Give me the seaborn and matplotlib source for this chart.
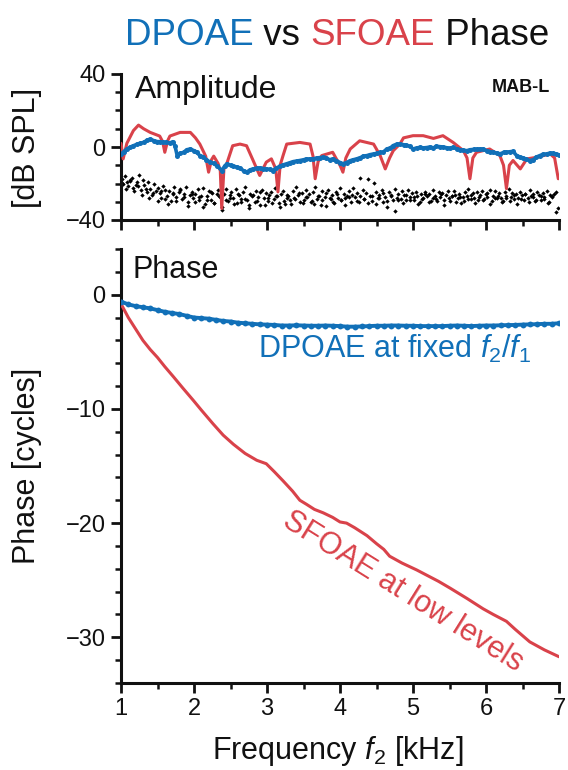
import matplotlib
matplotlib.use("Agg")
import matplotlib.pyplot as plt
import seaborn as sns
from matplotlib.ticker import MultipleLocator

# ---- data ----
# amplitude panel: SFOAE (red) level, dB SPL
sfAmpFreq = [1.00, 1.03, 1.08, 1.17, 1.24, 1.31, 1.40, 1.53, 1.57, 1.60,
             1.64, 1.67, 1.81, 1.95, 2.02, 2.08, 2.16, 2.20, 2.24, 2.27,
             2.33, 2.36, 2.38, 2.41, 2.45, 2.53, 2.63, 2.72, 2.81, 2.90,
             2.99, 3.06, 3.12, 3.15, 3.18, 3.22, 3.27, 3.45, 3.59, 3.63,
             3.66, 3.70, 3.75, 3.90, 3.95, 4.00, 4.04, 4.08, 4.14, 4.27,
             4.46, 4.55, 4.62, 4.68, 4.73, 4.82, 4.87, 5.00, 5.14, 5.28,
             5.41, 5.55, 5.69, 5.74, 5.78, 5.82, 5.87, 6.05, 6.19, 6.24,
             6.28, 6.32, 6.37, 6.47, 6.56, 6.70, 6.88, 6.94, 6.99]
sfAmp = [2.0, -6.5, 2.0, 9.0, 12.0, 10.0, 8.0, 6.0, 3.0, -2.9,
         3.5, 6.0, 8.0, 8.0, 5.0, 1.6, -5.0, -13.8, -7.0, -5.0,
         -9.0, -13.0, -33.7, -12.0, -9.0, 0.7, 1.6, 0.7, -7.4, -15.6,
         -8.3, -6.5, -12.0, -24.6, -10.0, -4.7, 1.6, 2.5, 1.6, -5.0,
         -17.4, -8.0, -4.7, -2.9, -6.5, -10.0, -13.8, -6.0, -1.1, 3.4,
         1.6, -4.7, -12.0, -6.0, -2.0, 1.6, 5.0, 6.2, 6.2, 4.7,
         6.2, 2.5, -2.0, -6.0, -17.4, -6.0, -2.9, -1.1, -4.7, -10.0,
         -22.8, -10.0, -7.4, -12.0, -6.5, -5.6, -3.8, -6.0, -17.4]

# amplitude panel: DPOAE (blue) level, dB SPL
dpAmpFreq = [1.00, 1.04, 1.08, 1.13, 1.17, 1.22, 1.26, 1.31, 1.36, 1.40,
             1.45, 1.49, 1.53, 1.58, 1.62, 1.67, 1.71, 1.74, 1.77, 1.81,
             1.86, 1.90, 1.95, 2.00, 2.04, 2.08, 2.13, 2.17, 2.22, 2.27,
             2.32, 2.38, 2.42, 2.45, 2.50, 2.54, 2.59, 2.63, 2.68, 2.72,
             2.77, 2.81, 2.86, 2.90, 2.95, 2.99, 3.04, 3.08, 3.13, 3.18,
             3.22, 3.27, 3.32, 3.36, 3.41, 3.45, 3.50, 3.54, 3.59, 3.63,
             3.68, 3.72, 3.77, 3.81, 3.86, 3.90, 3.95, 4.00, 4.04, 4.09,
             4.14, 4.18, 4.23, 4.28, 4.32, 4.37, 4.41, 4.46, 4.50, 4.55,
             4.59, 4.64, 4.69, 4.73, 4.78, 4.82, 4.87, 4.91, 4.96, 5.00,
             5.05, 5.10, 5.14, 5.19, 5.23, 5.28, 5.32, 5.37, 5.41, 5.46,
             5.50, 5.55, 5.60, 5.64, 5.69, 5.74, 5.78, 5.83, 5.87, 5.92,
             5.96, 6.01, 6.05, 6.10, 6.15, 6.19, 6.24, 6.28, 6.33, 6.37,
             6.42, 6.46, 6.51, 6.55, 6.60, 6.65, 6.69, 6.74, 6.78, 6.83,
             6.88, 6.92, 6.96, 7.00]
dpAmp = [-3.8, -2.5, -1.1, 0.0, 0.7, 1.5, 2.0, 2.5, 3.8, 4.3,
         3.5, 3.0, 2.9, 2.5, 2.6, 2.2, 2.9, 0.5, -4.7, -3.5,
         -2.9, -1.5, -1.1, -2.0, -3.0, -4.7, -5.5, -7.0, -8.3, -9.0,
         -10.5, -12.9, -10.5, -9.2, -10.0, -10.5, -11.0, -11.6, -13.0, -13.8,
         -12.5, -12.0, -11.6, -11.5, -11.8, -11.9, -12.3, -12.9, -11.5, -10.5,
         -9.8, -9.2, -8.5, -8.0, -7.7, -7.4, -7.0, -6.6, -6.5, -6.5,
         -6.0, -5.8, -5.6, -6.0, -7.0, -6.5, -7.5, -8.5, -9.2, -8.5,
         -7.5, -7.0, -6.5, -5.8, -5.0, -4.7, -4.2, -3.8, -3.5, -3.0,
         -2.9, -1.1, -0.5, 0.8, 1.6, 1.6, 1.3, 1.0, 0.3, -1.1,
         -0.5, -0.2, -0.5, -0.3, 0.0, -0.5, 0.4, 0.2, 0.0, -0.4,
         -0.8, -0.2, -1.0, -1.5, -1.8, -2.0, -1.5, -1.3, -1.2, -1.1,
         -1.1, -2.0, -2.5, -3.0, -3.3, -3.8, -3.0, -2.8, -2.5, -2.4,
         -4.7, -5.5, -6.0, -6.8, -7.4, -7.0, -5.5, -4.7, -4.0, -3.8,
         -3.3, -3.5, -3.8, -4.3]

# amplitude panel: noise floor (black dots), dB SPL
noiseFreq = [1.01, 1.03, 1.05, 1.08, 1.10, 1.12, 1.15, 1.17, 1.20, 1.22,
             1.25, 1.27, 1.30, 1.32, 1.35, 1.37, 1.40, 1.42, 1.45, 1.48,
             1.50, 1.53, 1.55, 1.58, 1.60, 1.63, 1.66, 1.68, 1.71, 1.73,
             1.76, 1.79, 1.81, 1.84, 1.86, 1.89, 1.92, 1.94, 1.97, 1.99,
             2.02, 2.05, 2.07, 2.10, 2.12, 2.15, 2.18, 2.20, 2.23, 2.25,
             2.28, 2.31, 2.33, 2.36, 2.38, 2.41, 2.44, 2.46, 2.49, 2.51,
             2.54, 2.57, 2.59, 2.62, 2.64, 2.67, 2.70, 2.72, 2.75, 2.77,
             2.80, 2.83, 2.85, 2.88, 2.90, 2.93, 2.96, 2.98, 3.01, 3.03,
             3.06, 3.09, 3.11, 3.14, 3.16, 3.19, 3.22, 3.24, 3.27, 3.29,
             3.32, 3.35, 3.37, 3.40, 3.42, 3.45, 3.48, 3.50, 3.53, 3.55,
             3.58, 3.61, 3.63, 3.66, 3.68, 3.71, 3.74, 3.76, 3.79, 3.81,
             3.84, 3.87, 3.89, 3.92, 3.94, 3.97, 4.00, 4.02, 4.05, 4.07,
             4.10, 4.13, 4.15, 4.18, 4.20, 4.23, 4.26, 4.28, 4.31, 4.33,
             4.36, 4.39, 4.41, 4.44, 4.46, 4.49, 4.52, 4.54, 4.57, 4.59,
             4.62, 4.65, 4.67, 4.70, 4.72, 4.75, 4.78, 4.80, 4.83, 4.85,
             4.88, 4.91, 4.93, 4.96, 4.98, 5.01, 5.04, 5.06, 5.09, 5.11,
             5.14, 5.17, 5.19, 5.22, 5.24, 5.27, 5.30, 5.32, 5.35, 5.37,
             5.40, 5.43, 5.45, 5.48, 5.50, 5.53, 5.56, 5.58, 5.61, 5.63,
             5.66, 5.69, 5.71, 5.74, 5.76, 5.79, 5.82, 5.84, 5.87, 5.89,
             5.92, 5.95, 5.97, 6.00, 6.02, 6.05, 6.08, 6.10, 6.13, 6.15,
             6.18, 6.21, 6.23, 6.26, 6.28, 6.31, 6.34, 6.36, 6.39, 6.41,
             6.44, 6.47, 6.49, 6.52, 6.54, 6.57, 6.60, 6.62, 6.65, 6.67,
             6.70, 6.73, 6.75, 6.78, 6.80, 6.83, 6.86, 6.88, 6.91, 6.93,
             6.96, 6.98]
noiseAmp = [-17.5, -20.2, -15.8, -19.0, -21.5, -18.3, -16.9, -22.4, -20.7, -19.1,
            -15.6, -23.8, -18.2, -21.0, -24.5, -19.4, -22.9, -26.1, -20.3, -24.0,
            -22.7, -25.3, -27.8, -21.4, -23.6, -26.9, -24.2, -29.5, -25.0, -22.1,
            -27.3, -24.4, -23.0, -28.6, -25.9, -21.7, -30.2, -26.4, -24.8, -28.0,
            -25.5, -23.2, -29.1, -27.0, -22.6, -31.4, -26.7, -24.1, -28.8, -25.2,
            -30.5, -26.0, -23.4, -27.6, -32.8, -25.7, -22.8, -29.7, -26.3, -24.6,
            -27.9, -23.1, -30.9, -26.5, -28.4, -24.9, -21.9, -29.0, -33.5, -25.8,
            -26.8, -30.1, -24.3, -27.4, -31.8, -23.7, -28.2, -25.4, -29.8, -26.2,
            -24.7, -28.5, -22.5, -27.1, -30.6, -25.6, -23.9, -31.0, -28.1, -26.6,
            -29.3, -24.2, -27.7, -21.8, -26.1, -30.4, -25.1, -28.9, -23.3, -27.2,
            -25.9, -29.6, -24.5, -22.0, -28.3, -26.8, -31.6, -24.0, -27.5, -25.3,
            -23.6, -28.7, -26.4, -30.8, -24.8, -27.9, -22.7, -29.2, -25.7, -28.0,
            -26.9, -24.3, -29.9, -22.4, -27.3, -25.0, -30.3, -26.6, -23.8, -28.6,
            -25.4, -17.8, -27.0, -29.4, -19.6, -24.7, -28.1, -26.2, -23.5, -30.0,
            -27.6, -32.9, -24.9, -26.3, -29.0, -22.9, -27.8, -25.5, -28.4, -24.1,
            -26.5, -29.3, -23.7, -27.4, -25.2, -28.9, -24.4, -26.9, -30.1, -25.6,
            -28.2, -24.6, -27.1, -25.8, -29.7, -23.4, -26.7, -28.5, -24.9, -27.3,
            -25.0, -28.8, -26.1, -24.2, -29.5, -27.0, -23.9, -26.4, -28.1, -25.7,
            -30.6, -27.5, -24.8, -26.9, -23.1, -28.7, -25.4, -27.8, -24.5, -29.2,
            -26.2, -24.0, -28.3, -25.9, -27.4, -23.6, -29.8, -26.6, -24.3, -28.0,
            -25.3, -27.9, -29.6, -24.7, -26.8, -22.8, -27.2, -25.1, -28.6, -26.0,
            -27.7, -24.6, -26.3, -29.1, -25.5, -28.2, -23.7, -27.0, -25.8, -29.4,
            -24.9, -26.5, -28.8, -25.2, -27.6, -24.1, -29.9, -26.2, -27.3, -25.6,
            -24.4, -33.2]

# second sweep of noise-floor dots
noise2Freq = [1.02, 1.07, 1.13, 1.18, 1.23, 1.29, 1.34, 1.39, 1.44, 1.50,
              1.55, 1.60, 1.65, 1.71, 1.76, 1.81, 1.86, 1.92, 1.97, 2.02,
              2.07, 2.13, 2.18, 2.23, 2.28, 2.34, 2.39, 2.44, 2.49, 2.55,
              2.60, 2.65, 2.70, 2.76, 2.81, 2.86, 2.91, 2.97, 3.02, 3.07,
              3.12, 3.18, 3.23, 3.28, 3.33, 3.39, 3.44, 3.49, 3.54, 3.60,
              3.65, 3.70, 3.75, 3.81, 3.86, 3.91, 3.96, 4.02, 4.07, 4.12,
              4.17, 4.23, 4.28, 4.33, 4.38, 4.44, 4.49, 4.54, 4.59, 4.65,
              4.70, 4.75, 4.80, 4.86, 4.91, 4.96, 5.01, 5.07, 5.12, 5.17,
              5.22, 5.28, 5.33, 5.38, 5.43, 5.49, 5.54, 5.59, 5.64, 5.70,
              5.75, 5.80, 5.85, 5.91, 5.96, 6.01, 6.06, 6.12, 6.17, 6.22,
              6.27, 6.33, 6.38, 6.43, 6.48, 6.54, 6.59, 6.64, 6.69, 6.75,
              6.80, 6.85, 6.90, 6.96]
noise2Amp = [-19.5, -22.8, -18.7, -24.3, -21.1, -26.4, -23.0, -27.9, -25.2, -29.4,
             -24.1, -28.6, -31.2, -26.0, -29.8, -23.5, -27.2, -32.4, -25.7, -30.3,
             -27.5, -33.1, -28.9, -24.8, -30.7, -26.9, -34.6, -29.2, -27.8, -31.5,
             -25.9, -30.0, -28.3, -32.0, -26.5, -29.6, -24.4, -31.8, -28.0, -30.9,
             -27.0, -32.7, -29.5, -26.2, -31.0, -28.4, -25.1, -30.6, -27.3, -29.9,
             -31.4, -26.8, -28.9, -32.3, -27.7, -30.2, -25.6, -29.0, -31.9, -27.4,
             -26.1, -29.7, -16.8, -28.5, -30.8, -26.6, -31.3, -28.0, -25.3, -29.4,
             -27.1, -34.8, -28.8, -30.5, -26.3, -29.2, -27.6, -31.1, -28.3, -26.0,
             -30.4, -27.9, -29.6, -25.8, -31.7, -28.1, -26.7, -30.0, -27.2, -29.8,
             -28.6, -26.4, -30.9, -27.5, -29.1, -25.4, -31.5, -28.2, -26.9, -30.3,
             -27.8, -29.5, -26.1, -31.0, -28.7, -25.9, -30.1, -27.3, -29.0, -26.6,
             -28.4, -30.7, -27.0, -35.5]

# phase panel: DPOAE at fixed f2/f1, cycles
dpPhFreq = [1.0, 1.1, 1.2, 1.3, 1.4, 1.5, 1.6, 1.7, 1.8, 1.9,
            2.0, 2.1, 2.2, 2.3, 2.4, 2.5, 2.6, 2.7, 2.8, 2.9,
            3.0, 3.1, 3.2, 3.3, 3.4, 3.5, 3.6, 3.7, 3.8, 3.9,
            4.0, 4.1, 4.2, 4.3, 4.4, 4.5, 4.6, 4.7, 4.8, 4.9,
            5.0, 5.1, 5.2, 5.3, 5.4, 5.5, 5.6, 5.7, 5.8, 5.9,
            6.0, 6.1, 6.2, 6.3, 6.4, 6.5, 6.6, 6.7, 6.8, 6.9,
            7.0]
dpPhase = [-0.6, -0.85, -1.0, -1.1, -1.2, -1.35, -1.5, -1.6, -1.7, -1.85,
           -2.0, -2.05, -2.1, -2.2, -2.3, -2.35, -2.45, -2.5, -2.55, -2.6,
           -2.62, -2.65, -2.7, -2.7, -2.68, -2.7, -2.72, -2.72, -2.7, -2.72,
           -2.75, -2.8, -2.8, -2.78, -2.75, -2.72, -2.72, -2.7, -2.7, -2.72,
           -2.72, -2.75, -2.75, -2.75, -2.75, -2.72, -2.7, -2.72, -2.75, -2.72,
           -2.7, -2.7, -2.68, -2.66, -2.65, -2.62, -2.6, -2.58, -2.55, -2.55,
           -2.5]

# phase panel: SFOAE at low levels, cycles
sfPhFreq = [1.00, 1.10, 1.20, 1.30, 1.40, 1.50, 1.60, 1.72, 1.85, 1.99,
            2.10, 2.26, 2.40, 2.54, 2.70, 2.86, 2.99, 3.10, 3.22, 3.35,
            3.45, 3.54, 3.65, 3.77, 3.90, 4.00, 4.09, 4.20, 4.37, 4.50,
            4.60, 4.68, 4.85, 5.05, 5.20, 5.35, 5.51, 5.74, 5.96, 6.10,
            6.28, 6.40, 6.60, 6.80, 7.00]
sfPhase = [-0.8, -2.0, -3.0, -4.0, -4.8, -5.5, -6.3, -7.2, -8.2, -9.25,
           -10.1, -11.3, -12.3, -13.1, -13.9, -14.5, -14.8, -15.5, -16.3, -17.2,
           -18.0, -18.35, -18.8, -19.1, -19.5, -19.9, -20.0, -20.4, -21.1, -21.8,
           -22.3, -22.9, -23.5, -24.1, -24.6, -25.1, -25.7, -26.6, -27.5, -28.0,
           -28.6, -29.3, -30.4, -31.1, -31.7]

BLUE = "#1170b8"
RED = "#d9424a"
INK = "#111111"
W, H = 568, 770


def styleAxis(ax):
    sns.despine(ax=ax)
    for side in ["left", "bottom"]:
        ax.spines[side].set_linewidth(2.2)
        ax.spines[side].set_color(INK)
    ax.tick_params(which="major", length=7, width=2, direction="out",
                   labelsize=17, pad=4, colors=INK)
    ax.tick_params(which="minor", length=4, width=1.8, direction="out",
                   colors=INK)
    ax.set_xlim(1, 7)
    ax.xaxis.set_major_locator(MultipleLocator(1))
    ax.xaxis.set_minor_locator(MultipleLocator(0.5))
    ax.set_xlabel("")
    ax.set_ylabel("")


def main():
    sns.set_style("ticks")
    plt.rcParams["font.family"] = ["Liberation Sans", "DejaVu Sans"]
    plt.rcParams["mathtext.fontset"] = "custom"
    plt.rcParams["mathtext.rm"] = "Liberation Sans"
    plt.rcParams["mathtext.it"] = "Liberation Sans:italic"

    fig = plt.figure(figsize=(W / 100, H / 100), dpi=100)
    axAmp = fig.add_axes([121 / W, 1 - 220 / H, 438 / W, 146 / H])
    axPh = fig.add_axes([121 / W, 1 - 683 / H, 438 / W, 434 / H])

    # amplitude panel
    sns.scatterplot(x=noiseFreq, y=noiseAmp, ax=axAmp, color="black",
                    marker="D", s=5, linewidth=0, zorder=2)
    sns.scatterplot(x=noise2Freq, y=noise2Amp, ax=axAmp, color="black",
                    marker="D", s=5, linewidth=0, zorder=2)
    sns.lineplot(x=sfAmpFreq, y=sfAmp, ax=axAmp, color=RED, lw=2.2,
                 sort=False, estimator=None, zorder=3)
    sns.lineplot(x=dpAmpFreq, y=dpAmp, ax=axAmp, color=BLUE, lw=2.6,
                 marker="o", markersize=3.6, markeredgewidth=0,
                 sort=False, estimator=None, zorder=4)
    styleAxis(axAmp)
    axAmp.set_ylim(-40, 40)
    axAmp.yaxis.set_major_locator(MultipleLocator(40))
    axAmp.yaxis.set_minor_locator(MultipleLocator(10))
    axAmp.tick_params(labelbottom=False)
    axAmp.set_ylabel("[dB SPL]", fontsize=22, color=INK)
    axAmp.yaxis.set_label_coords(-0.180, 0.493)
    axAmp.text(0.032, 0.89, "Amplitude", transform=axAmp.transAxes,
               fontsize=23, ha="left", va="center", color=INK)
    axAmp.text(0.979, 0.905, "MAB-L", transform=axAmp.transAxes,
               fontsize=13, fontweight="bold", ha="right", va="center",
               color=INK)

    # phase panel
    sns.lineplot(x=sfPhFreq, y=sfPhase, ax=axPh, color=RED, lw=2.2,
                 sort=False, estimator=None, zorder=3)
    sns.lineplot(x=dpPhFreq, y=dpPhase, ax=axPh, color=BLUE, lw=2.8,
                 marker="o", markersize=4.2, markeredgewidth=0,
                 sort=False, estimator=None, zorder=4)
    styleAxis(axPh)
    axPh.set_ylim(-34, 4)
    axPh.yaxis.set_major_locator(MultipleLocator(10))
    axPh.yaxis.set_minor_locator(MultipleLocator(2))
    axPh.set_ylabel("Phase [cycles]", fontsize=22, color=INK)
    axPh.yaxis.set_label_coords(-0.180, 0.5)
    axPh.set_xlabel("Frequency $f_2$ [kHz]", fontsize=22, color=INK)
    axPh.xaxis.set_label_coords(0.495, -0.117)
    axPh.text(0.027, 0.952, "Phase", transform=axPh.transAxes,
              fontsize=22, ha="left", va="center", color=INK)
    axPh.text(2.88, -5.55, "DPOAE at fixed $f_2/f_1$", fontsize=22,
              color=BLUE, ha="left", va="baseline")
    axPh.text(4.86, -26.0, "SFOAE at low levels", fontsize=22, color=RED,
              ha="center", va="center", rotation=-32, rotation_mode="anchor")

    # multi-coloured title
    renderer = fig.canvas.get_renderer()
    parts = [("DPOAE", BLUE), (" vs ", INK), ("SFOAE", RED), (" Phase", INK)]
    texts = []
    for label, col in parts:
        texts.append(fig.text(0, 1 - 45 / H, label, fontsize=26.5, color=col,
                              ha="left", va="baseline"))
    widths = [t.get_window_extent(renderer).width for t in texts]
    x = 337 - sum(widths) / 2
    for t, w in zip(texts, widths):
        t.set_x(x / W)
        x += w

    fig.savefig("out.png", dpi=100)


if __name__ == "__main__":
    main()
